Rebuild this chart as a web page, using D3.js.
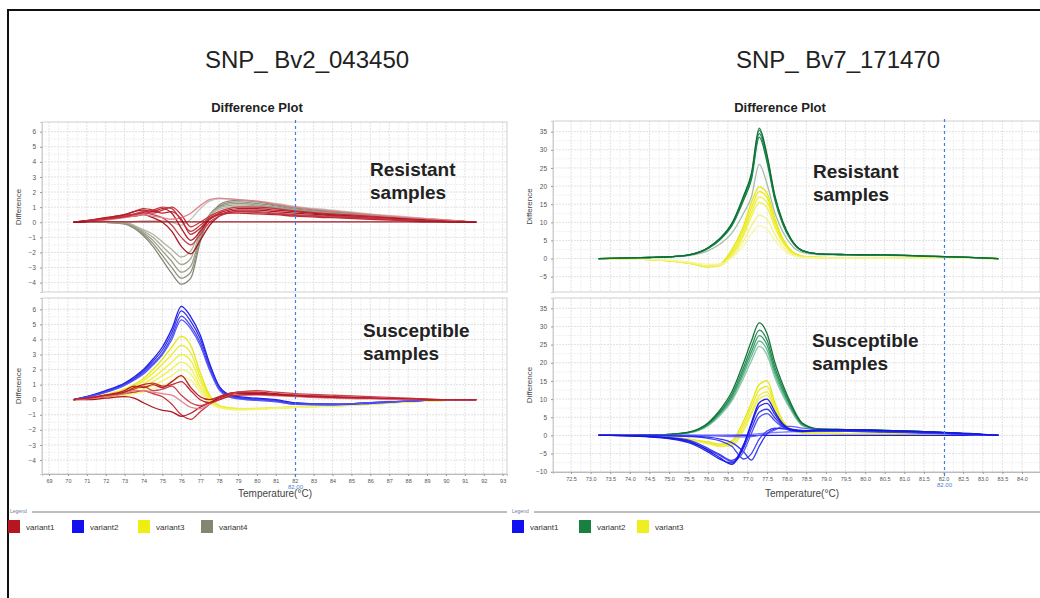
<!DOCTYPE html>
<html>
<head>
<meta charset="utf-8">
<script src="https://cdn.jsdelivr.net/npm/d3@7"></script>
<style>
  body { margin: 0; background: #fff; }
  svg text { font-family: 'Liberation Sans', Arial, sans-serif; }
</style>
</head>
<body>
<svg id="chart" width="1040" height="598"></svg>
<script>
// ---- data ----
var leftTemps = [70.3, 71, 72, 73, 73.5, 74, 74.5, 75, 75.5, 76, 76.5, 77, 77.5, 78, 78.5, 79, 80, 81, 82, 84, 86, 88, 90, 91.6];
var rightTemps = [73.2, 73.5, 74, 74.5, 75, 75.5, 76, 76.3, 76.6, 76.9, 77.1, 77.3, 77.5, 77.7, 77.9, 78.1, 78.4, 78.8, 79.5, 80.5, 81.5, 82.5, 83.4];

var leftXTicks = [69, 70, 71, 72, 73, 74, 75, 76, 77, 78, 79, 80, 81, 82, 83, 84, 85, 86, 87, 88, 89, 90, 91, 92, 93];
var rightXTicks = [72.5, 73.0, 73.5, 74.0, 74.5, 75.0, 75.5, 76.0, 76.5, 77.0, 77.5, 78.0, 78.5, 79.0, 79.5, 80.0, 80.5, 81.0, 81.5, 82.0, 82.5, 83.0, 83.5, 84.0];
var leftYTicks = [-4, -3, -2, -1, 0, 1, 2, 3, 4, 5, 6];
var rightTopYTicks = [-5, 0, 5, 10, 15, 20, 25, 30, 35];
var rightBotYTicks = [-10, -5, 0, 5, 10, 15, 20, 25, 30, 35];
var cursorTemps = [82.0, 82.0];

// SNP_ Bv2_043450, resistant
var bv2ResVariant4 = [
  [0,0,0,-0.1,-0.4,-0.9,-1.6,-2.5,-3.4,-4.1,-3.7,-1.3,0.4,1.15,1.4,1.45,1.35,1.15,0.95,0.7,0.48,0.3,0.14,0],
  [0,0,0,-0.1,-0.35,-0.8,-1.4,-2.2,-3.0,-3.7,-3.3,-1.1,0.5,1.05,1.3,1.35,1.25,1.08,0.88,0.66,0.45,0.28,0.12,0],
  [0,0,0,-0.05,-0.3,-0.7,-1.2,-1.9,-2.6,-3.3,-2.9,-0.9,0.5,1.0,1.2,1.25,1.15,1.0,0.82,0.62,0.42,0.25,0.1,0],
  [0,0,0,-0.05,-0.25,-0.6,-1.0,-1.6,-2.2,-2.8,-2.4,-0.7,0.5,0.95,1.1,1.15,1.08,0.95,0.78,0.58,0.4,0.24,0.1,0],
  [0,0,0,0,-0.2,-0.5,-0.8,-1.3,-1.8,-2.3,-1.9,-0.5,0.45,0.85,1.0,1.05,1.0,0.88,0.72,0.55,0.38,0.22,0.1,0],
  [0,0,0,0,0.05,0.1,0.1,0.1,0,-0.2,0.2,0.9,1.4,1.55,1.55,1.5,1.4,1.25,1.05,0.8,0.55,0.35,0.15,0]
];
var bv2ResVariant1 = [
  [0,0.1,0.3,0.5,0.7,0.8,0.7,0.9,0.6,-0.4,-1.2,-0.6,0.2,0.6,0.8,0.9,0.9,0.8,0.7,0.5,0.35,0.2,0.1,0],
  [0,0.1,0.25,0.45,0.55,0.7,0.6,0.8,1.0,0.5,-0.3,0,0.4,0.7,0.9,1.0,1.0,0.9,0.75,0.55,0.4,0.25,0.1,0],
  [0,0.05,0.2,0.35,0.4,0.5,0.3,0.0,-0.6,-1.6,-2.1,-1.2,-0.2,0.4,0.7,0.8,0.8,0.7,0.6,0.45,0.3,0.2,0.1,0],
  [0,0.1,0.2,0.4,0.5,0.6,0.5,0.3,-0.2,-1.0,-1.5,-0.8,0.0,0.4,0.6,0.7,0.7,0.6,0.5,0.4,0.3,0.15,0.05,0],
  [0,0.05,0.15,0.3,0.4,0.5,0.4,0.3,0.2,0.3,0.6,1.1,1.5,1.6,1.55,1.5,1.4,1.2,1.0,0.75,0.5,0.3,0.15,0],
  [0,0.1,0.3,0.5,0.7,0.9,0.8,0.6,0.7,0.2,-0.8,-0.4,0.2,0.5,0.6,0.6,0.55,0.5,0.4,0.3,0.2,0.1,0.05,0],
  [0,0.08,0.2,0.35,0.5,0.65,0.8,1.0,0.9,0.1,-0.6,-0.2,0.3,0.55,0.65,0.7,0.65,0.55,0.45,0.35,0.25,0.12,0.05,0],
  [0,0.02,0.03,0.03,0.03,0.03,0.03,0.03,0.03,0.03,0.03,0.03,0.03,0.03,0.03,0.03,0.03,0.03,0.03,0.03,0.02,0.02,0.01,0]
];

// SNP_ Bv2_043450, susceptible
var bv2SusVariant3 = [
  [0,0.1,0.35,0.7,1.0,1.4,2.0,2.7,3.5,4.2,3.6,1.8,0.3,-0.4,-0.55,-0.6,-0.6,-0.55,-0.5,-0.42,-0.3,-0.15,-0.05,0],
  [0,0.1,0.3,0.6,0.9,1.25,1.75,2.35,3.0,3.6,3.1,1.5,0.2,-0.4,-0.55,-0.6,-0.6,-0.55,-0.5,-0.4,-0.3,-0.15,-0.05,0],
  [0,0.08,0.25,0.5,0.75,1.05,1.45,1.95,2.5,3.0,2.6,1.2,0.1,-0.4,-0.55,-0.6,-0.58,-0.52,-0.48,-0.38,-0.28,-0.14,-0.05,0],
  [0,0.06,0.2,0.42,0.62,0.85,1.2,1.6,2.05,2.5,2.1,0.9,0,-0.45,-0.6,-0.62,-0.6,-0.55,-0.5,-0.4,-0.28,-0.14,-0.05,0],
  [0,0.05,0.15,0.32,0.48,0.68,0.95,1.25,1.6,2.0,1.7,0.7,-0.1,-0.5,-0.62,-0.65,-0.62,-0.56,-0.5,-0.4,-0.28,-0.14,-0.05,0],
  [0,0.04,0.12,0.25,0.38,0.52,0.72,0.95,1.2,1.5,1.3,0.5,-0.2,-0.55,-0.65,-0.68,-0.65,-0.58,-0.52,-0.42,-0.3,-0.15,-0.05,0]
];
var bv2SusVariant2 = [
  [0,0.2,0.6,1.1,1.5,2.0,2.7,3.5,4.7,6.2,5.5,4.3,2.4,0.9,0.35,0.2,0.1,0,-0.2,-0.3,-0.2,-0.1,0,0],
  [0,0.2,0.55,1.05,1.4,1.9,2.55,3.3,4.45,5.9,5.2,4.05,2.25,0.85,0.3,0.15,0.05,-0.05,-0.25,-0.3,-0.2,-0.1,0,0],
  [0,0.18,0.5,1.0,1.35,1.8,2.4,3.1,4.2,5.55,4.9,3.8,2.1,0.75,0.25,0.1,0,-0.1,-0.3,-0.35,-0.25,-0.1,0,0],
  [0,0.17,0.48,0.95,1.3,1.7,2.3,3.0,4.0,5.3,4.7,3.6,1.95,0.65,0.2,0.05,-0.05,-0.15,-0.3,-0.3,-0.2,-0.1,0,0]
];
var bv2SusVariant1 = [
  [0,0.1,0.3,0.6,0.9,0.8,1.0,0.8,1.2,1.6,0.8,0.2,0.0,0.2,0.4,0.5,0.5,0.4,0.3,0.2,0.1,0.05,0,0],
  [0,0.05,0.2,0.4,0.5,0.6,0.4,0.2,-0.3,-1.0,-1.3,-0.8,-0.3,0.2,0.4,0.5,0.45,0.35,0.3,0.2,0.1,0.05,0,0],
  [0,0,0.1,0.2,0.1,-0.2,-0.5,-0.7,-0.8,-1.1,-0.9,-0.5,-0.2,0.1,0.3,0.4,0.4,0.35,0.25,0.15,0.1,0,0,0],
  [0,0.1,0.25,0.5,0.7,0.9,0.6,0.7,0.9,0.3,-0.2,-0.4,-0.2,0.0,0.3,0.5,0.6,0.5,0.4,0.3,0.2,0.1,0,0],
  [0,0.05,0.2,0.4,0.6,0.6,0.5,0.4,0.3,-0.1,-0.5,-0.6,-0.3,0,0.2,0.3,0.3,0.25,0.2,0.1,0.05,0,0,0],
  [0,0.1,0.3,0.5,0.8,1.0,1.1,0.9,1.0,1.2,0.6,0.0,-0.2,0,0.2,0.3,0.35,0.3,0.25,0.15,0.1,0.05,0,0]
];

// SNP_ Bv7_171470, resistant
var bv7ResVariant3 = [
  [0,0,-0.1,-0.3,-0.6,-1.2,-2.1,-1.5,2.5,9,15.5,19.8,18,11,5.5,2.4,0.7,0.3,0.25,0.2,0.2,0.1,0],
  [0,0,-0.1,-0.3,-0.6,-1.2,-2.2,-1.7,1.8,8,14,18.5,16.8,10.2,5.1,2.2,0.6,0.3,0.25,0.2,0.2,0.1,0],
  [0,0,-0.1,-0.3,-0.6,-1.3,-2.3,-1.9,1.2,7,12.8,17,15.5,9.4,4.7,2.0,0.6,0.3,0.2,0.2,0.2,0.1,0],
  [0,0,-0.1,-0.3,-0.6,-1.3,-2.3,-2.0,0.8,6.2,11.6,15.5,14,8.6,4.3,1.8,0.5,0.3,0.2,0.2,0.15,0.1,0],
  [0,0,-0.1,-0.25,-0.5,-1.1,-2.0,-1.8,0.5,4.8,9,12,10.8,6.6,3.3,1.4,0.4,0.25,0.2,0.2,0.15,0.1,0],
  [0,0,-0.05,-0.2,-0.4,-0.9,-1.6,-1.5,0.3,3.5,6.8,9,8.1,5,2.5,1.1,0.3,0.2,0.2,0.15,0.1,0.05,0]
];
var bv7ResVariant2 = [
  [0,0.05,0.15,0.25,0.4,0.8,2.2,4.0,7.0,12.5,17,26,20.5,12.5,7.4,4.0,1.7,1.1,1.0,0.9,0.6,0.35,0],
  [0,0.05,0.2,0.3,0.5,0.95,2.8,5.2,9.0,16.1,21.8,33.5,26.5,16.1,9.5,5.2,2.1,1.3,1.1,1.0,0.7,0.4,0],
  [0,0.05,0.2,0.3,0.5,1.0,2.9,5.4,9.3,16.6,22.4,34.5,27.3,16.6,9.8,5.4,2.2,1.3,1.1,1.0,0.7,0.4,0],
  [0,0.05,0.2,0.3,0.5,1.0,3.0,5.5,9.5,17,23,35.4,28,17,10,5.5,2.2,1.3,1.1,1.0,0.7,0.4,0],
  [0,0.05,0.2,0.3,0.5,1.0,3.05,5.6,9.7,17.3,23.5,36,28.5,17.3,10.2,5.6,2.2,1.3,1.1,1.0,0.7,0.4,0]
];

// SNP_ Bv7_171470, susceptible
var bv7SusVariant2 = [
  [0,0,0.05,0.1,0.25,0.7,2.7,5.5,9.5,15.8,20.5,24.5,22.1,15.8,11,7.1,2.7,1.6,1.5,1.3,0.9,0.5,0],
  [0,0,0.05,0.1,0.25,0.75,2.9,5.9,10,16.8,21.8,26,23.5,16.8,11.7,7.5,2.9,1.7,1.5,1.3,0.9,0.5,0],
  [0,0,0.05,0.1,0.3,0.8,3.1,6.2,10.6,17.7,23,27.5,24.8,17.7,12.4,8,3.0,1.7,1.6,1.4,1.0,0.5,0],
  [0,0,0.05,0.1,0.3,0.85,3.3,6.5,11.2,18.7,24.3,29,26.2,18.7,13.1,8.4,3.2,1.8,1.6,1.4,1.0,0.5,0],
  [0,0,0.05,0.1,0.3,0.9,3.5,7,12,20,26,31,28,20,14,9,3.4,1.8,1.6,1.4,1.0,0.5,0]
];
var bv7SusVariant3 = [
  [0,0,0,-0.1,-0.4,-1.0,-1.8,-2.4,-1.5,4,9,14,15,9,4,1.8,0.8,0.6,0.5,0.4,0.3,0.2,0],
  [0,0,0,-0.1,-0.45,-1.1,-2.0,-2.7,-2,3,7.8,12.5,13.5,8,3.6,1.6,0.8,0.6,0.5,0.4,0.3,0.2,0],
  [0,0,0,-0.15,-0.5,-1.2,-2.2,-3.0,-2.6,2,6.5,11,12,7.2,3.2,1.5,0.7,0.6,0.5,0.4,0.3,0.2,0],
  [0,0,0,-0.15,-0.5,-1.2,-2.3,-3.1,-2.9,1.2,5.8,10,11,6.5,3,1.4,0.7,0.6,0.5,0.4,0.3,0.2,0]
];
var bv7SusVariant1 = [
  [0,0,0,0,0,0,0,0,0,0,0,0,0,0,0,0,0,0,0,0,0,0,0],
  [0,0,0,0,0,0,0,0,0.1,0.2,0.3,0.5,0.7,0.8,0.9,1,1.1,1.2,1.2,1.0,0.7,0.3,0],
  [0,0,0,0,0,0,-0.1,-0.2,-0.3,-0.4,-0.3,0,0.5,1.5,2.5,2.5,2,1.6,1.2,0.9,0.6,0.3,0],
  [0,0,0,0,-0.1,-0.3,-0.8,-1.5,-3,-6.5,-5,-1,1.2,2.0,1.8,1.5,1.2,1.2,1.3,1.1,0.8,0.4,0],
  [0,0,0,0,-0.1,-0.2,-0.5,-1,-2,-4.5,-6.8,-3,0.5,1.8,2,1.7,1.4,1.3,1.2,1.0,0.7,0.4,0],
  [0,0,-0.1,-0.3,-0.8,-1.8,-3.9,-5.6,-7.2,-4.5,0.5,5,6,4,2.3,1.3,1.0,1.2,1.3,1.1,0.8,0.4,0],
  [0,0,-0.05,-0.3,-0.6,-1.3,-3.6,-5.3,-6.9,-3.5,1.8,6.4,7.2,4.8,2.5,1.4,1.1,1.3,1.4,1.2,0.9,0.5,0],
  [0,0,-0.1,-0.4,-0.9,-2,-4.6,-6.6,-7.6,-2.5,3,8,8.8,5.7,2.9,1.5,1.2,1.4,1.5,1.3,1.0,0.5,0],
  [0,0,-0.1,-0.3,-0.7,-1.6,-4.2,-6.2,-8,-3,3.5,9,10,6.5,3.2,1.7,1.2,1.5,1.6,1.3,1.0,0.6,0]
];

var leftLegend = ['variant1', 'variant2', 'variant3', 'variant4'];
var rightLegend = ['variant1', 'variant2', 'variant3'];

// ---- styles ----
var red = ['#b3121f', '#c62832', '#a50e1a', '#c43a48', '#e07a88', '#b81c28', '#c0303c', '#9a0c18'];
var gray = ['#7f8270', '#8a8c78', '#969884', '#a2a490', '#aeb09e', '#c0c2b4'];
var blueL = ['#1515e0', '#2a2aee', '#3c3cf2', '#5050f8'];
var yellowL = ['#e6e600', '#ebeb18', '#eeee30', '#f0f048', '#f2f262', '#f4f47c'];
var greenT = ['#9fb8a6', '#0f7a3a', '#17864a', '#1e9050', '#0c6b33'];
var yellowT = ['#e6e600', '#eaea14', '#eded2a', '#efef40', '#f2f27e', '#f5f5a4'];
var greenB = ['#86c4a4', '#5ab28a', '#2e9a62', '#1a8648', '#0d6b33'];
var yellowB = ['#e5e500', '#e9e91c', '#eded38', '#eeee50'];
var blueB = ['#1010d8', '#7a7aff', '#5c5cff', '#3a3af4', '#2a2aee', '#4848f6', '#3030f0', '#2020e8', '#1414e0'];

var svg = d3.select('#chart');
var font = "'Liberation Sans', Arial, sans-serif";

// outer frame
svg.append('line').attr('x1', 7).attr('x2', 1040).attr('y1', 10).attr('y2', 10)
  .attr('stroke', '#111').attr('stroke-width', 2);
svg.append('line').attr('x1', 8).attr('x2', 8).attr('y1', 10).attr('y2', 598)
  .attr('stroke', '#111').attr('stroke-width', 2);

var panels = [
  { id: 'tl', left: 42, right: 507, top: 122, bottom: 292, xDomain: [68.63, 93.23], yDomain: [-4.62, 6.64],
    xTicks: leftXTicks, yTicks: leftYTicks, temps: leftTemps, axisX: false, fmt: d3.format('d'),
    groups: [{ data: bv2ResVariant4, colors: gray }, { data: bv2ResVariant1, colors: red }] },
  { id: 'bl', left: 42, right: 507, top: 298, bottom: 474, xDomain: [68.63, 93.23], yDomain: [-4.93, 6.75],
    xTicks: leftXTicks, yTicks: leftYTicks, temps: leftTemps, axisX: true, fmt: d3.format('d'),
    groups: [{ data: bv2SusVariant3, colors: yellowL }, { data: bv2SusVariant2, colors: blueL }, { data: bv2SusVariant1, colors: red }] },
  { id: 'tr', left: 553, right: 1040, top: 121, bottom: 292, xDomain: [72.04, 84.46], yDomain: [-9.22, 37.95],
    xTicks: rightXTicks, yTicks: rightTopYTicks, temps: rightTemps, axisX: false, fmt: d3.format('.1f'),
    groups: [{ data: bv7ResVariant3, colors: yellowT }, { data: bv7ResVariant2, colors: greenT }] },
  { id: 'br', left: 553, right: 1040, top: 298, bottom: 472, xDomain: [72.04, 84.46], yDomain: [-10.08, 37.84],
    xTicks: rightXTicks, yTicks: rightBotYTicks, temps: rightTemps, axisX: true, fmt: d3.format('.1f'),
    groups: [{ data: bv7SusVariant2, colors: greenB }, { data: bv7SusVariant3, colors: yellowB }, { data: bv7SusVariant1, colors: blueB }] }
];

var scales = {};

panels.forEach(function(p) {
  var x = d3.scaleLinear().domain(p.xDomain).range([p.left, p.right]);
  var y = d3.scaleLinear().domain(p.yDomain).range([p.bottom, p.top]);
  scales[p.id] = { x: x, y: y };
  var g = svg.append('g');

  g.append('clipPath').attr('id', 'clip-' + p.id)
    .append('rect').attr('x', p.left).attr('y', p.top)
    .attr('width', p.right - p.left).attr('height', p.bottom - p.top);

  // grid, minor then major (the cursor temperature is left to the cursor line)
  var xs = p.xTicks, ys = p.yTicks;
  var xMinor = xs.slice(1).map(function(v, i) { return (v + xs[i]) / 2; });
  var yMinor = ys.slice(1).map(function(v, i) { return (v + ys[i]) / 2; });
  var xMajor = xs.filter(function(v) { return cursorTemps.indexOf(v) < 0; });
  var grid = g.append('g').attr('clip-path', 'url(#clip-' + p.id + ')');
  grid.selectAll('.vmin').data(xMinor).enter().append('line')
    .attr('x1', x).attr('x2', x).attr('y1', p.top).attr('y2', p.bottom)
    .attr('stroke', '#f0f0f0').attr('stroke-dasharray', '2,1');
  grid.selectAll('.hmin').data(yMinor).enter().append('line')
    .attr('y1', y).attr('y2', y).attr('x1', p.left).attr('x2', p.right)
    .attr('stroke', '#f0f0f0').attr('stroke-dasharray', '2,1');
  grid.selectAll('.vmaj').data(xMajor).enter().append('line')
    .attr('x1', x).attr('x2', x).attr('y1', p.top).attr('y2', p.bottom)
    .attr('stroke', '#e2e2e2').attr('stroke-dasharray', '2,1');
  grid.selectAll('.hmaj').data(ys).enter().append('line')
    .attr('y1', y).attr('y2', y).attr('x1', p.left).attr('x2', p.right)
    .attr('stroke', '#e2e2e2').attr('stroke-dasharray', '2,1');

  g.append('rect').attr('x', p.left).attr('y', p.top)
    .attr('width', p.right - p.left).attr('height', p.bottom - p.top)
    .attr('fill', 'none').attr('stroke', '#cfcfcf');

  // axes
  var ya = g.append('g').attr('transform', 'translate(' + p.left + ',0)')
    .call(d3.axisLeft(y).tickValues(p.yTicks).tickSize(2).tickPadding(4));
  ya.select('.domain').attr('stroke', '#cfcfcf');
  ya.selectAll('.tick line').attr('stroke', '#999');
  ya.selectAll('text').style('font-size', '6.5px').style('font-family', font).attr('fill', '#555');

  if (p.axisX) {
    var xa = g.append('g').attr('transform', 'translate(0,' + p.bottom + ')')
      .call(d3.axisBottom(x).tickValues(p.xTicks).tickSize(2).tickPadding(3).tickFormat(p.fmt));
    xa.select('.domain').attr('stroke', '#bbb');
    xa.selectAll('.tick line').attr('stroke', '#999');
    xa.selectAll('text').style('font-size', '5.5px').style('font-family', font).attr('fill', '#555');
  }

  // curves
  var line = d3.line()
    .x(function(d, i) { return x(p.temps[i]); })
    .y(function(d) { return y(d); })
    .curve(d3.curveMonotoneX);
  var lg = g.append('g').attr('clip-path', 'url(#clip-' + p.id + ')');
  p.groups.forEach(function(grp) {
    lg.selectAll(null).data(grp.data).enter().append('path')
      .attr('d', line)
      .attr('fill', 'none')
      .attr('stroke', function(d, i) { return grp.colors[i % grp.colors.length]; })
      .attr('stroke-width', 1.3)
      .attr('stroke-opacity', 0.95);
  });

  // y label
  svg.append('text')
    .attr('transform', 'translate(' + (p.left - 21) + ',' + ((p.top + p.bottom) / 2) + ') rotate(-90)')
    .attr('text-anchor', 'middle')
    .style('font-size', '8px').attr('fill', '#444')
    .text('Difference');
});

// cursor lines
[['tl', 'bl'], ['tr', 'br']].forEach(function(pair, k) {
  var x = scales[pair[0]].x;
  var cx = Math.round(x(cursorTemps[k])) + 0.5;
  var top = panels.filter(function(p) { return p.id === pair[0]; })[0].top;
  var bot = panels.filter(function(p) { return p.id === pair[1]; })[0].bottom;
  svg.append('line')
    .attr('x1', cx).attr('x2', cx)
    .attr('y1', top - 2).attr('y2', bot + 4)
    .attr('stroke', '#3c7de6').attr('stroke-width', 1.2).attr('stroke-dasharray', '3,3');
  svg.append('text')
    .attr('x', cx).attr('y', bot + 15)
    .attr('text-anchor', 'middle')
    .style('font-size', '6px').attr('fill', '#4a7fd0')
    .text(d3.format('.2f')(cursorTemps[k]));
});

// x axis titles
svg.append('text').attr('x', 275).attr('y', 497).attr('text-anchor', 'middle')
  .style('font-size', '10px').attr('fill', '#444').text('Temperature(\u00b0C)');
svg.append('text').attr('x', 802).attr('y', 497).attr('text-anchor', 'middle')
  .style('font-size', '10px').attr('fill', '#444').text('Temperature(\u00b0C)');

// titles
svg.append('text').attr('x', 307).attr('y', 68).attr('text-anchor', 'middle')
  .style('font-size', '24px').attr('fill', '#222').text('SNP_ Bv2_043450');
svg.append('text').attr('x', 838).attr('y', 68).attr('text-anchor', 'middle')
  .style('font-size', '24px').attr('fill', '#222').text('SNP_ Bv7_171470');
svg.append('text').attr('x', 257).attr('y', 112).attr('text-anchor', 'middle')
  .style('font-size', '13px').style('font-weight', 'bold').attr('fill', '#222').text('Difference Plot');
svg.append('text').attr('x', 780).attr('y', 112).attr('text-anchor', 'middle')
  .style('font-size', '13px').style('font-weight', 'bold').attr('fill', '#222').text('Difference Plot');

// annotations
var notes = [
  { x: 370, y: 176, lines: ['Resistant', 'samples'] },
  { x: 363, y: 337, lines: ['Susceptible', 'samples'] },
  { x: 813, y: 178, lines: ['Resistant', 'samples'] },
  { x: 812, y: 347, lines: ['Susceptible', 'samples'] }
];
notes.forEach(function(n) {
  var t = svg.append('text').attr('x', n.x).attr('y', n.y)
    .style('font-size', '19px').style('font-weight', 'bold').attr('fill', '#222');
  n.lines.forEach(function(s, i) {
    t.append('tspan').attr('x', n.x).attr('dy', i === 0 ? 0 : 23).text(s);
  });
});

// legends
function legend(x0, x1, names, colors, starts) {
  svg.append('text').attr('x', x0 + 2).attr('y', 513)
    .style('font-size', '5px').attr('fill', '#6a7aa8').text('Legend');
  svg.append('line').attr('x1', x0 + 24).attr('x2', x1).attr('y1', 512).attr('y2', 512)
    .attr('stroke', '#a8a8a8').attr('stroke-width', 1.5);
  names.forEach(function(name, i) {
    svg.append('rect').attr('x', starts[i]).attr('y', 520).attr('width', 12).attr('height', 13)
      .attr('fill', colors[i]);
    svg.append('text').attr('x', starts[i] + 18).attr('y', 530)
      .style('font-size', '8px').attr('fill', '#333').text(name);
  });
}
legend(8, 507, leftLegend, ['#b5161f', '#1010f0', '#eeee10', '#858672'], [8, 72, 138, 201]);
legend(510, 1040, rightLegend, ['#1010f0', '#198040', '#eeee20'], [512, 579, 637]);
</script>
</body>
</html>
